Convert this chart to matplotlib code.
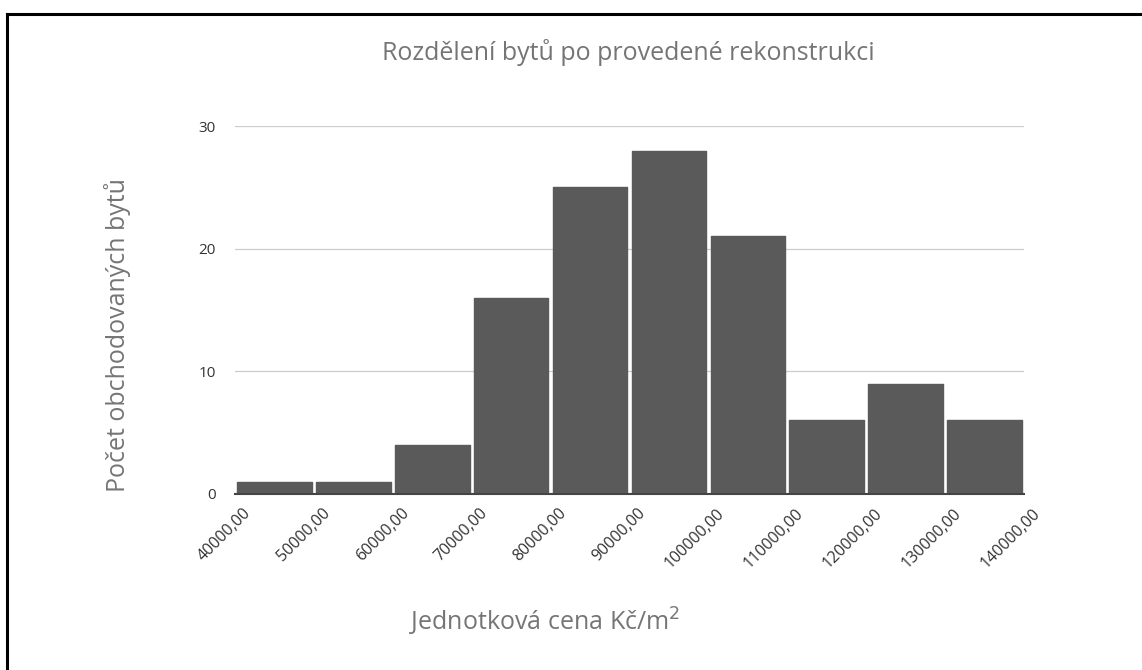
import matplotlib.pyplot as plt
import matplotlib.transforms as mtransforms
from matplotlib.lines import Line2D

bin_edges = [40000, 50000, 60000, 70000, 80000, 90000, 100000, 110000, 120000, 130000, 140000]
counts = [1, 1, 4, 16, 25, 28, 21, 6, 9, 6]
tick_labels = ['%d,00' % v for v in bin_edges]

plt.rcParams['font.family'] = ['Open Sans', 'DejaVu Sans']


def main():
    fig = plt.figure(figsize=(11.42, 6.70), dpi=100)
    ax = fig.add_axes([0.2058, 0.2627, 0.6909, 0.5492])

    width = bin_edges[1] - bin_edges[0]
    gap = 550
    ax.bar([b + gap / 2 for b in bin_edges[:-1]], counts, width=width - gap, align='edge',
           color='#5a5a5a', edgecolor='#5a5a5a', linewidth=1, joinstyle='round', zorder=3)

    ax.set_xlim(bin_edges[0], bin_edges[-1])
    ax.set_ylim(0, 30)
    ax.set_yticks([0, 10, 20, 30])
    ax.grid(axis='y', color='#cccccc', linewidth=0.9)
    ax.set_axisbelow(True)
    for s in ['top', 'right', 'left']:
        ax.spines[s].set_visible(False)
    ax.spines['bottom'].set_color('#444444')
    ax.spines['bottom'].set_linewidth(1.5)
    ax.spines['bottom'].set_zorder(4)

    ax.set_xticks(bin_edges)
    ax.set_xticklabels(tick_labels, rotation=45, ha='right', rotation_mode='anchor')
    ax.tick_params(axis='x', length=0, pad=8, labelsize=11.5, labelcolor='#333333')
    ax.tick_params(axis='y', length=0, pad=14, labelsize=11, labelcolor='#333333')

    # shift rotated labels so their right end sits next to the tick
    off = mtransforms.ScaledTranslation(8 / 100, 0, fig.dpi_scale_trans)
    for lbl in ax.get_xticklabels():
        lbl.set_transform(lbl.get_transform() + off)

    fig.text(0.55, 0.922, 'Rozdělení bytů po provedené rekonstrukci', ha='center', va='center',
             fontsize=18, color='#757575')
    fig.text(0.477, 0.072, 'Jednotková cena Kč/m$^2$', ha='center', va='center',
             fontsize=18, color='#757575')
    fig.text(0.103, 0.5, 'Počet obchodovaných bytů', ha='center', va='center',
             rotation=90, fontsize=18, color='#757575')

    # frame on top and left like the source screenshot
    fig.add_artist(Line2D([0.0065, 1.0], [0.979, 0.979], transform=fig.transFigure,
                          color='black', linewidth=2.2))
    fig.add_artist(Line2D([0.0065, 0.0065], [0.0, 0.979], transform=fig.transFigure,
                          color='black', linewidth=2.2))

    fig.savefig('out.png', dpi=100)


if __name__ == "__main__":
    main()
